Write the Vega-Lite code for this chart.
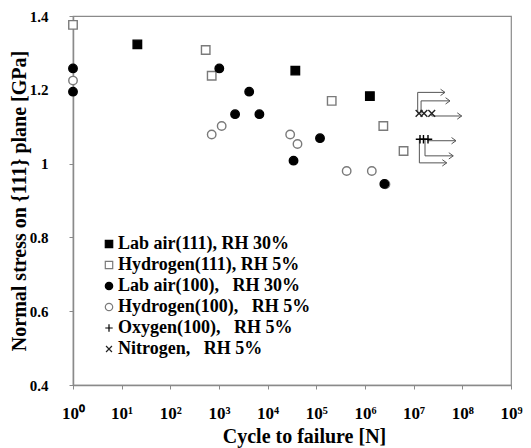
{
  "$schema": "https://vega.github.io/schema/vega-lite/v6.json",
  "width": 438,
  "height": 369,
  "autosize": {"type": "none"},
  "padding": {"left": 73, "top": 16, "right": 20, "bottom": 63},
  "background": "white",
  "config": {
    "view": {"stroke": "#8a8a8a", "strokeWidth": 1.2},
    "font": "Liberation Serif",
    "axis": {
      "domainColor": "#8a8a8a",
      "domainWidth": 1.5,
      "tickColor": "#8a8a8a",
      "tickSize": 4,
      "grid": false,
      "labelFont": "Liberation Serif",
      "labelFontWeight": "bold",
      "labelColor": "black",
      "titleFont": "Liberation Serif",
      "titleFontWeight": "bold",
      "titleColor": "black"
    }
  },
  "datasets": {
    "pts": [
      {"x": 1, "y": 1.225, "series": "Hydrogen(100),\u00a0\u00a0 RH 5%"},
      {"x": 1135, "y": 1.102, "series": "Hydrogen(100),\u00a0\u00a0 RH 5%"},
      {"x": 708, "y": 1.079, "series": "Hydrogen(100),\u00a0\u00a0 RH 5%"},
      {"x": 29000, "y": 1.079, "series": "Hydrogen(100),\u00a0\u00a0 RH 5%"},
      {"x": 41000, "y": 1.053, "series": "Hydrogen(100),\u00a0\u00a0 RH 5%"},
      {"x": 420000, "y": 0.98, "series": "Hydrogen(100),\u00a0\u00a0 RH 5%"},
      {"x": 1380000, "y": 0.98, "series": "Hydrogen(100),\u00a0\u00a0 RH 5%"},
      {"x": 2630000, "y": 0.944, "series": "Hydrogen(100),\u00a0\u00a0 RH 5%"},
      {"x": 1, "y": 1.376, "series": "Hydrogen(111), RH 5%"},
      {"x": 533, "y": 1.308, "series": "Hydrogen(111), RH 5%"},
      {"x": 708, "y": 1.238, "series": "Hydrogen(111), RH 5%"},
      {"x": 207000, "y": 1.17, "series": "Hydrogen(111), RH 5%"},
      {"x": 2380000, "y": 1.102, "series": "Hydrogen(111), RH 5%"},
      {"x": 6200000, "y": 1.034, "series": "Hydrogen(111), RH 5%"},
      {"x": 21, "y": 1.323, "series": "Lab air(111), RH 30%"},
      {"x": 37000, "y": 1.252, "series": "Lab air(111), RH 30%"},
      {"x": 1260000, "y": 1.183, "series": "Lab air(111), RH 30%"},
      {"x": 1, "y": 1.258, "series": "Lab air(100),\u00a0\u00a0 RH 30%"},
      {"x": 1, "y": 1.195, "series": "Lab air(100),\u00a0\u00a0 RH 30%"},
      {"x": 1014, "y": 1.258, "series": "Lab air(100),\u00a0\u00a0 RH 30%"},
      {"x": 4170, "y": 1.195, "series": "Lab air(100),\u00a0\u00a0 RH 30%"},
      {"x": 2140, "y": 1.134, "series": "Lab air(100),\u00a0\u00a0 RH 30%"},
      {"x": 6760, "y": 1.134, "series": "Lab air(100),\u00a0\u00a0 RH 30%"},
      {"x": 34000, "y": 1.008, "series": "Lab air(100),\u00a0\u00a0 RH 30%"},
      {"x": 119000, "y": 1.069, "series": "Lab air(100),\u00a0\u00a0 RH 30%"},
      {"x": 2500000, "y": 0.945, "series": "Lab air(100),\u00a0\u00a0 RH 30%"},
      {"x": 13500000, "y": 1.066, "series": "Oxygen(100),\u00a0\u00a0 RH 5%"},
      {"x": 15900000, "y": 1.066, "series": "Oxygen(100),\u00a0\u00a0 RH 5%"},
      {"x": 19700000, "y": 1.066, "series": "Oxygen(100),\u00a0\u00a0 RH 5%"},
      {"x": 12900000, "y": 1.136, "series": "Nitrogen,\u00a0\u00a0 RH 5%"},
      {"x": 16300000, "y": 1.136, "series": "Nitrogen,\u00a0\u00a0 RH 5%"},
      {"x": 23500000, "y": 1.136, "series": "Nitrogen,\u00a0\u00a0 RH 5%"}
    ],
    "arr": [
      {"x0": 12100000, "y0": 1.136, "y1": 1.193, "xt": 44000000},
      {"x0": 14200000, "y0": 1.136, "y1": 1.17, "xt": 55800000},
      {"x0": 23500000, "y0": 1.134, "y1": 1.129, "xt": 97000000},
      {"x0": 19700000, "y0": 1.066, "y1": 1.062, "xt": 74000000},
      {"x0": 17100000, "y0": 1.066, "y1": 1.021, "xt": 65000000},
      {"x0": 13100000, "y0": 1.066, "y1": 1.002, "xt": 47800000}
    ]
  },
  "layer": [
    {
      "data": {"name": "arr"},
      "mark": {"type": "rule", "color": "#555555", "strokeWidth": 1},
      "encoding": {
        "x": {"field": "x0", "type": "quantitative"},
        "y": {"field": "y0", "type": "quantitative"},
        "y2": {"field": "y1"}
      }
    },
    {
      "data": {"name": "arr"},
      "mark": {"type": "rule", "color": "#555555", "strokeWidth": 1},
      "encoding": {
        "x": {"field": "x0", "type": "quantitative"},
        "x2": {"field": "xt"},
        "y": {"field": "y1", "type": "quantitative"}
      }
    },
    {
      "data": {"name": "arr"},
      "mark": {"type": "point", "shape": "M-1.4,-1L0,0L-1.4,1", "size": 40, "filled": false, "stroke": "#555555", "strokeWidth": 1, "opacity": 1},
      "encoding": {
        "x": {"field": "xt", "type": "quantitative"},
        "y": {"field": "y1", "type": "quantitative"}
      }
    },
    {
      "data": {"name": "pts"},
      "mark": {"type": "point", "filled": true, "size": 72, "strokeWidth": 1.4, "opacity": 1},
      "encoding": {
        "x": {
          "field": "x",
          "type": "quantitative",
          "scale": {"type": "log", "domain": [1, 1000000000], "nice": false},
          "axis": {
            "title": "Cycle to failure [N]",
            "values": [1, 10, 100, 1000, 10000, 100000, 1000000, 10000000, 100000000, 1000000000],
            "labelExpr": "'10' + ['⁰','¹','²','³','⁴','⁵','⁶','⁷','⁸','⁹'][round(log(datum.value)/LN10)]",
            "labelFontSize": 17,
            "labelPadding": 16,
            "titleFontSize": 20,
            "titlePadding": 5,
            "titleX": 231,
            "labelFlush": false
          }
        },
        "y": {
          "field": "y",
          "type": "quantitative",
          "scale": {"domain": [0.4, 1.4], "nice": false, "zero": false},
          "axis": {
            "title": "Normal stress on {111} plane [GPa]",
            "values": [0.4, 0.6, 0.8, 1, 1.2, 1.4],
            "format": "~g",
            "labelFontSize": 15,
            "labelPadding": 21,
            "titleFontSize": 20,
            "titlePadding": 0,
            "labelFlush": false
          }
        },
        "shape": {
          "field": "series",
          "type": "nominal",
          "scale": {
            "domain": ["Lab air(111), RH 30%", "Hydrogen(111), RH 5%", "Lab air(100),\u00a0\u00a0 RH 30%", "Hydrogen(100),\u00a0\u00a0 RH 5%", "Oxygen(100),\u00a0\u00a0 RH 5%", "Nitrogen,\u00a0\u00a0 RH 5%"],
            "range": ["square", "square", "circle", "circle", "M-1,0L1,0M0,-1L0,1", "M-0.8,-0.8L0.8,0.8M-0.8,0.8L0.8,-0.8"]
          },
          "legend": {
            "title": null,
            "orient": "none",
            "legendX": 27,
            "legendY": 219,
            "padding": 0,
            "rowPadding": 3,
            "labelFont": "Liberation Serif",
            "labelFontWeight": "bold",
            "labelFontSize": 18,
            "labelColor": "black",
            "labelLimit": 400,
            "labelOffset": 0,
            "symbolSize": 55,
            "symbolStrokeWidth": 1.2
          }
        },
        "fill": {
          "field": "series",
          "type": "nominal",
          "scale": {
            "domain": ["Lab air(111), RH 30%", "Hydrogen(111), RH 5%", "Lab air(100),\u00a0\u00a0 RH 30%", "Hydrogen(100),\u00a0\u00a0 RH 5%", "Oxygen(100),\u00a0\u00a0 RH 5%", "Nitrogen,\u00a0\u00a0 RH 5%"],
            "range": ["black", "white", "black", "white", "transparent", "transparent"]
          },
          "legend": {
            "title": null,
            "orient": "none",
            "legendX": 27,
            "legendY": 219,
            "padding": 0,
            "rowPadding": 3,
            "labelFont": "Liberation Serif",
            "labelFontWeight": "bold",
            "labelFontSize": 18,
            "labelColor": "black",
            "labelLimit": 400,
            "labelOffset": 0,
            "symbolSize": 55,
            "symbolStrokeWidth": 1.2
          }
        },
        "stroke": {
          "field": "series",
          "type": "nominal",
          "scale": {
            "domain": ["Lab air(111), RH 30%", "Hydrogen(111), RH 5%", "Lab air(100),\u00a0\u00a0 RH 30%", "Hydrogen(100),\u00a0\u00a0 RH 5%", "Oxygen(100),\u00a0\u00a0 RH 5%", "Nitrogen,\u00a0\u00a0 RH 5%"],
            "range": ["black", "#7a7a7a", "black", "#7a7a7a", "black", "#222222"]
          },
          "legend": {
            "title": null,
            "orient": "none",
            "legendX": 27,
            "legendY": 219,
            "padding": 0,
            "rowPadding": 3,
            "labelFont": "Liberation Serif",
            "labelFontWeight": "bold",
            "labelFontSize": 18,
            "labelColor": "black",
            "labelLimit": 400,
            "labelOffset": 0,
            "symbolSize": 55,
            "symbolStrokeWidth": 1.2
          }
        }
      }
    }
  ]
}
